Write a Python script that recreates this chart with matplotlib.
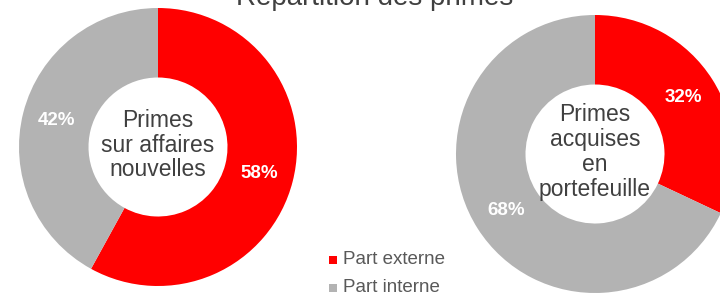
import matplotlib.pyplot as plt
from matplotlib.patches import Rectangle

plt.rcParams['font.family'] = ['Liberation Sans', 'DejaVu Sans']

title = "Répartition des primes"
parts = ["Part externe", "Part interne"]
colors = ["#ff0000", "#b3b3b3"]
left_vals = [58, 42]
right_vals = [32, 68]
left_label = "Primes\nsur affaires\nnouvelles"
right_label = "Primes\nacquises\nen\nportefeuille"

W, H = 720, 296
fig = plt.figure(figsize=(W / 100, H / 100), dpi=100)
ax = fig.add_axes([0, 0, 1, 1])

R = 139
hole = 0.5


def donut(vals, cx, cy, label):
    cy = H - cy
    ax.pie(vals, colors=colors, startangle=90, counterclock=False,
           center=(cx, cy), radius=R, frame=True,
           wedgeprops=dict(width=R * (1 - hole), linewidth=0),
           autopct='%d%%', pctdistance=0.755,
           textprops=dict(color='white', fontsize=13.5, fontweight='bold'))
    ax.text(cx, cy + 2, label, ha='center', va='center', fontsize=16.5,
            color='#404040', linespacing=1.1)


donut(left_vals, 158, 147, left_label)
donut(right_vals, 595, 154, right_label)
ax.set_xlim(0, W)
ax.set_ylim(0, H)
ax.set_aspect('equal')
ax.axis('off')

ax.text(375, H - 5, title, ha='center', va='baseline', fontsize=20, color='#404040')

for i, (p, c) in enumerate(zip(parts, colors)):
    y = H - 260 - i * 28
    ax.add_patch(Rectangle((329, y - 4), 8, 8, color=c, linewidth=0))
    ax.text(343, y, p, ha='left', va='center', fontsize=13.5, color='#595959')

fig.savefig('out.png', dpi=100)
